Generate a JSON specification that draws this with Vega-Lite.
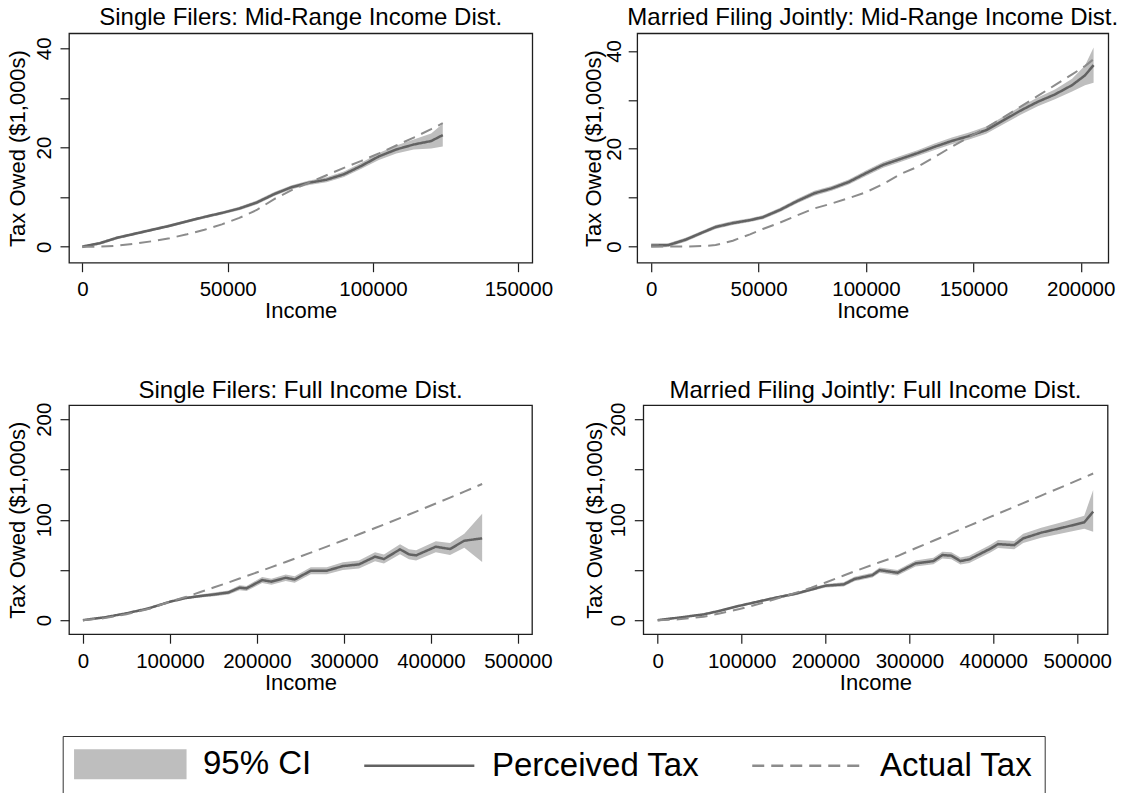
{
  "$schema": "https://vega.github.io/schema/vega-lite/v6.json",
  "background": "white",
  "autosize": {"type": "none"},
  "padding": {"left": 69, "top": 33.3, "right": 1054, "bottom": 759.7},
  "spacing": 54.9,
  "config": {
    "font": "Liberation Sans",
    "view": {"stroke": "#1e1e1e", "strokeWidth": 1.3},
    "axis": {"domain": false, "grid": false, "ticks": true, "tickSize": 9, "tickColor": "#1e1e1e", "tickWidth": 1.2, "labelFont": "Liberation Sans", "labelFontSize": 20.5, "labelColor": "#000000", "titleFont": "Liberation Sans", "titleFontSize": 22, "titleFontWeight": "normal", "titleColor": "#000000", "labelFlush": false, "labelOverlap": false},
    "axisX": {"labelBaseline": "alphabetic", "labelPadding": 24, "titleBaseline": "alphabetic", "titleY": 55},
    "axisY": {"labelAngle": 270, "labelAlign": "center", "labelBaseline": "alphabetic", "labelPadding": 10, "titleAngle": 270, "titleBaseline": "alphabetic"},
    "title": {"fontSize": 24, "font": "Liberation Sans", "fontWeight": "normal", "color": "#000000", "offset": 3, "anchor": "middle"},
    "legend": {
      "orient": "none", "legendX": -6.3, "legendY": 702.7, "direction": "horizontal",
      "symbolSize": 900, "symbolStrokeWidth": 2.5, "symbolOffset": 39.5, "symbolOpacity": 1,
      "labelOffset": 56.2, "labelFont": "Liberation Sans", "labelFontSize": 33, "labelColor": "#000000", "labelLimit": 400,
      "columnPadding": 47, "padding": 11.6, "strokeColor": "#333333", "fillColor": "#ffffff"
    }
  },
  "datasets": {
    "sm": [
      {"x":0,"p":0,"lo":-0.3,"hi":0.3,"a":0},
      {"x":6000,"p":0.7,"lo":0.4,"hi":1.0,"a":0},
      {"x":12000,"p":1.8,"lo":1.5,"hi":2.1,"a":0.2},
      {"x":18000,"p":2.6,"lo":2.3,"hi":2.9,"a":0.6},
      {"x":24000,"p":3.4,"lo":3.1,"hi":3.7,"a":1.1},
      {"x":30000,"p":4.2,"lo":3.9,"hi":4.5,"a":1.7},
      {"x":36000,"p":5.1,"lo":4.8,"hi":5.4,"a":2.5},
      {"x":42000,"p":6.0,"lo":5.7,"hi":6.3,"a":3.4},
      {"x":48000,"p":6.8,"lo":6.5,"hi":7.1,"a":4.5},
      {"x":54000,"p":7.7,"lo":7.35,"hi":8.05,"a":5.8},
      {"x":60000,"p":8.9,"lo":8.5,"hi":9.3,"a":7.4},
      {"x":66000,"p":10.6,"lo":10.2,"hi":11.0,"a":9.6},
      {"x":72000,"p":12.0,"lo":11.6,"hi":12.4,"a":11.4},
      {"x":78000,"p":12.9,"lo":12.45,"hi":13.35,"a":12.9},
      {"x":84000,"p":13.5,"lo":13.0,"hi":14.0,"a":14.4},
      {"x":90000,"p":14.6,"lo":14.05,"hi":15.15,"a":15.9},
      {"x":96000,"p":16.3,"lo":15.7,"hi":16.9,"a":17.3},
      {"x":102000,"p":18.2,"lo":17.5,"hi":18.9,"a":18.8},
      {"x":108000,"p":19.6,"lo":18.8,"hi":20.4,"a":20.4},
      {"x":114000,"p":20.6,"lo":19.6,"hi":21.6,"a":22.0},
      {"x":120000,"p":21.3,"lo":19.8,"hi":22.8,"a":23.7},
      {"x":124000,"p":22.5,"lo":20.2,"hi":24.8,"a":24.9}
    ],
    "mm": [
      {"x":0,"p":0.2,"lo":-0.3,"hi":0.7,"a":0},
      {"x":8000,"p":0.3,"lo":-0.1,"hi":0.7,"a":0},
      {"x":16000,"p":1.4,"lo":1.0,"hi":1.8,"a":0},
      {"x":24000,"p":2.9,"lo":2.5,"hi":3.3,"a":0.1},
      {"x":30000,"p":4.0,"lo":3.6,"hi":4.4,"a":0.3},
      {"x":38000,"p":4.8,"lo":4.4,"hi":5.2,"a":1.2},
      {"x":46000,"p":5.4,"lo":5.0,"hi":5.8,"a":2.5},
      {"x":52000,"p":6.0,"lo":5.6,"hi":6.4,"a":3.6},
      {"x":60000,"p":7.5,"lo":7.05,"hi":7.95,"a":4.9},
      {"x":68000,"p":9.3,"lo":8.85,"hi":9.75,"a":6.4},
      {"x":76000,"p":10.9,"lo":10.4,"hi":11.4,"a":7.8},
      {"x":84000,"p":11.9,"lo":11.4,"hi":12.4,"a":8.8},
      {"x":92000,"p":13.2,"lo":12.7,"hi":13.7,"a":9.9},
      {"x":100000,"p":15.0,"lo":14.45,"hi":15.55,"a":11.1},
      {"x":108000,"p":16.7,"lo":16.1,"hi":17.3,"a":12.8},
      {"x":116000,"p":17.9,"lo":17.3,"hi":18.5,"a":14.8},
      {"x":124000,"p":19.1,"lo":18.5,"hi":19.7,"a":16.3},
      {"x":132000,"p":20.4,"lo":19.75,"hi":21.05,"a":18.3},
      {"x":140000,"p":21.6,"lo":20.9,"hi":22.3,"a":20.4},
      {"x":148000,"p":22.6,"lo":21.9,"hi":23.3,"a":22.4},
      {"x":156000,"p":23.8,"lo":23.05,"hi":24.55,"a":24.3},
      {"x":164000,"p":25.8,"lo":25.0,"hi":26.6,"a":26.4},
      {"x":172000,"p":27.8,"lo":26.95,"hi":28.65,"a":28.6},
      {"x":180000,"p":29.6,"lo":28.7,"hi":30.5,"a":30.8},
      {"x":188000,"p":31.1,"lo":30.1,"hi":32.1,"a":33.0},
      {"x":196000,"p":33.0,"lo":31.7,"hi":34.3,"a":35.2},
      {"x":202000,"p":35.0,"lo":33.0,"hi":37.0,"a":36.9},
      {"x":206000,"p":37.1,"lo":33.5,"hi":40.7,"a":38.3}
    ],
    "sf": [
      {"x":0,"p":0,"lo":-0.8,"hi":0.8,"a":0},
      {"x":25000,"p":2.8,"lo":2.0,"hi":3.6,"a":2.0},
      {"x":50000,"p":6.8,"lo":6.0,"hi":7.6,"a":5.8},
      {"x":75000,"p":11.6,"lo":10.7,"hi":12.5,"a":11.0},
      {"x":100000,"p":18.3,"lo":17.3,"hi":19.3,"a":18.4},
      {"x":118000,"p":22.0,"lo":20.8,"hi":23.2,"a":23.0},
      {"x":135000,"p":24.0,"lo":22.5,"hi":25.5,"a":28.0},
      {"x":151000,"p":25.6,"lo":23.8,"hi":27.4,"a":32.7},
      {"x":167500,"p":27.6,"lo":25.6,"hi":29.6,"a":37.6},
      {"x":180000,"p":32.3,"lo":29.8,"hi":34.8,"a":41.4},
      {"x":188000,"p":31.6,"lo":29.1,"hi":34.1,"a":43.9},
      {"x":206000,"p":39.9,"lo":36.9,"hi":42.9,"a":49.4},
      {"x":216700,"p":38.3,"lo":35.3,"hi":41.3,"a":52.8},
      {"x":233100,"p":42.2,"lo":39.0,"hi":45.4,"a":57.9},
      {"x":243400,"p":40.5,"lo":37.3,"hi":43.7,"a":61.2},
      {"x":261900,"p":49.2,"lo":45.7,"hi":52.7,"a":67.2},
      {"x":280300,"p":49.2,"lo":45.7,"hi":52.7,"a":73.2},
      {"x":298800,"p":53.8,"lo":50.0,"hi":57.6,"a":79.3},
      {"x":317300,"p":55.5,"lo":51.5,"hi":59.5,"a":85.5},
      {"x":335800,"p":63.2,"lo":58.7,"hi":67.7,"a":91.7},
      {"x":346000,"p":60.8,"lo":56.3,"hi":65.3,"a":95.2},
      {"x":364500,"p":70.5,"lo":65.5,"hi":75.5,"a":101.6},
      {"x":374700,"p":65.5,"lo":60.5,"hi":70.5,"a":105.2},
      {"x":383000,"p":64.5,"lo":59.5,"hi":69.5,"a":108.1},
      {"x":405600,"p":73.1,"lo":67.6,"hi":78.6,"a":116.1},
      {"x":422000,"p":70.8,"lo":64.8,"hi":76.8,"a":122.0},
      {"x":438400,"p":79.1,"lo":72.1,"hi":86.1,"a":127.9},
      {"x":458900,"p":81.4,"lo":58.0,"hi":106.0,"a":135.5}
    ],
    "mf": [
      {"x":0,"p":0,"lo":-0.8,"hi":0.8,"a":0},
      {"x":25000,"p":2.5,"lo":1.7,"hi":3.3,"a":0.8},
      {"x":54700,"p":5.7,"lo":4.8,"hi":6.6,"a":3.4},
      {"x":75000,"p":9.5,"lo":8.5,"hi":10.5,"a":6.9},
      {"x":97500,"p":14.3,"lo":13.3,"hi":15.3,"a":11.0},
      {"x":120000,"p":18.5,"lo":17.3,"hi":19.7,"a":16.0},
      {"x":140300,"p":22.3,"lo":21.0,"hi":23.6,"a":21.0},
      {"x":166000,"p":26.6,"lo":25.1,"hi":28.1,"a":27.6},
      {"x":183000,"p":30.5,"lo":28.9,"hi":32.1,"a":32.3},
      {"x":200200,"p":34.3,"lo":32.5,"hi":36.1,"a":37.5},
      {"x":221700,"p":35.6,"lo":33.6,"hi":37.6,"a":44.4},
      {"x":234500,"p":40.9,"lo":38.7,"hi":43.1,"a":48.6},
      {"x":255900,"p":44.8,"lo":42.4,"hi":47.2,"a":55.0},
      {"x":264500,"p":49.8,"lo":47.3,"hi":52.3,"a":57.6},
      {"x":285800,"p":47.2,"lo":44.4,"hi":50.0,"a":63.8},
      {"x":307300,"p":56.5,"lo":53.5,"hi":59.5,"a":71.6},
      {"x":328600,"p":58.8,"lo":55.6,"hi":62.0,"a":79.0},
      {"x":339300,"p":64.8,"lo":61.4,"hi":68.2,"a":82.8},
      {"x":350000,"p":64.2,"lo":60.7,"hi":67.7,"a":86.6},
      {"x":360800,"p":58.8,"lo":55.3,"hi":62.3,"a":90.3},
      {"x":371400,"p":60.5,"lo":56.9,"hi":64.1,"a":94.1},
      {"x":397100,"p":71.4,"lo":67.6,"hi":75.2,"a":103.0},
      {"x":405600,"p":75.7,"lo":71.7,"hi":79.7,"a":106.0},
      {"x":424900,"p":74.7,"lo":70.5,"hi":78.9,"a":112.7},
      {"x":435600,"p":81.4,"lo":76.9,"hi":85.9,"a":116.5},
      {"x":457100,"p":87.1,"lo":82.1,"hi":92.1,"a":124.0},
      {"x":482700,"p":92.1,"lo":86.6,"hi":97.6,"a":133.0},
      {"x":508400,"p":97.4,"lo":90.9,"hi":103.9,"a":142.2},
      {"x":519000,"p":108.0,"lo":88.0,"hi":129.5,"a":146.0}
    ]
  },
  "vconcat": [
    {
      "bounds": "flush",
      "spacing": 104.2,
      "hconcat": [
        {
          "width": 463.3, "height": 229.4,
          "title": "Single Filers: Mid-Range Income Dist.",
          "data": {"name": "sm"},
          "encoding": {"x": {"field": "x", "type": "quantitative", "scale": {"domain": [-4600, 154800], "nice": false, "zero": false}, "axis": {"values": [0, 50000, 100000, 150000], "format": "d", "title": "Income"}}},
          "layer": [
            {"mark": {"type": "area", "opacity": 1},
             "encoding": {
               "y": {"field": "lo", "type": "quantitative", "scale": {"domain": [-3.23, 43.02], "nice": false, "zero": false}, "axis": {"values": [0, 10, 20, 30, 40], "labelExpr": "datum.value % 20 === 0 ? datum.label : ''", "format": "d", "title": "Tax Owed ($1,000s)", "titleX": -44.7}},
               "y2": {"field": "hi"},
               "fill": {"datum": "95% CI", "type": "nominal",
                 "scale": {"domain": ["95% CI", "Perceived Tax", "Actual Tax"], "range": ["#bebebe", "transparent", "transparent"]},
                 "legend": {"title": null}}
             }},
            {"mark": {"type": "point", "opacity": 0, "size": 0, "filled": true},
             "encoding": {
               "y": {"field": "p", "type": "quantitative", "axis": {"values": [0, 10, 20, 30, 40], "labelExpr": "datum.value % 20 === 0 ? datum.label : ''", "format": "d", "title": "Tax Owed ($1,000s)", "titleX": -44.7}},
               "shape": {"datum": "95% CI", "type": "nominal",
                 "scale": {"domain": ["95% CI", "Perceived Tax", "Actual Tax"], "range": ["M-3.75,-1H3.75V1H-3.75Z", "M-3.67,0H3.67", "M-3.67,0H3.67"]},
                 "legend": {"title": null}}
             }},
            {"mark": {"type": "line", "strokeWidth": 2.5},
             "encoding": {
               "y": {"field": "p", "type": "quantitative", "axis": {"values": [0, 10, 20, 30, 40], "labelExpr": "datum.value % 20 === 0 ? datum.label : ''", "format": "d", "title": "Tax Owed ($1,000s)", "titleX": -44.7}},
               "stroke": {"datum": "Perceived Tax", "type": "nominal",
                 "scale": {"domain": ["95% CI", "Perceived Tax", "Actual Tax"], "range": ["transparent", "#626262", "#8c8c8c"]},
                 "legend": {"title": null}},
               "strokeDash": {"datum": "Perceived Tax", "type": "nominal",
                 "scale": {"domain": ["95% CI", "Perceived Tax", "Actual Tax"], "range": [[1, 0], [1, 0], [12, 7]]},
                 "legend": {"title": null}}
             }},
            {"mark": {"type": "line", "strokeWidth": 2},
             "encoding": {
               "y": {"field": "a", "type": "quantitative", "axis": {"values": [0, 10, 20, 30, 40], "labelExpr": "datum.value % 20 === 0 ? datum.label : ''", "format": "d", "title": "Tax Owed ($1,000s)", "titleX": -44.7}},
               "stroke": {"datum": "Actual Tax", "type": "nominal", "legend": {"title": null}},
               "strokeDash": {"datum": "Actual Tax", "type": "nominal", "legend": {"title": null}}
             }}
          ]
        },
        {
          "width": 471.1, "height": 229.4,
          "title": "Married Filing Jointly: Mid-Range Income Dist.",
          "data": {"name": "mm"},
          "encoding": {"x": {"field": "x", "type": "quantitative", "scale": {"domain": [-6520, 212850], "nice": false, "zero": false}, "axis": {"values": [0, 50000, 100000, 150000, 200000], "format": "d", "title": "Income"}}},
          "layer": [
            {"mark": {"type": "area", "opacity": 1},
             "encoding": {
               "y": {"field": "lo", "type": "quantitative", "scale": {"domain": [-3.3, 43.6], "nice": false, "zero": false}, "axis": {"values": [0, 10, 20, 30, 40], "labelExpr": "datum.value % 20 === 0 ? datum.label : ''", "format": "d", "title": "Tax Owed ($1,000s)", "titleX": -36.8, "labelPadding": 7.5}},
               "y2": {"field": "hi"},
               "fill": {"datum": "95% CI", "type": "nominal", "legend": {"title": null}}
             }},
            {"mark": {"type": "line", "strokeWidth": 2.5},
             "encoding": {
               "y": {"field": "p", "type": "quantitative", "axis": {"values": [0, 10, 20, 30, 40], "labelExpr": "datum.value % 20 === 0 ? datum.label : ''", "format": "d", "title": "Tax Owed ($1,000s)", "titleX": -36.8, "labelPadding": 7.5}},
               "stroke": {"datum": "Perceived Tax", "type": "nominal", "legend": {"title": null}},
               "strokeDash": {"datum": "Perceived Tax", "type": "nominal", "legend": {"title": null}}
             }},
            {"mark": {"type": "line", "strokeWidth": 2},
             "encoding": {
               "y": {"field": "a", "type": "quantitative", "axis": {"values": [0, 10, 20, 30, 40], "labelExpr": "datum.value % 20 === 0 ? datum.label : ''", "format": "d", "title": "Tax Owed ($1,000s)", "titleX": -36.8, "labelPadding": 7.5}},
               "stroke": {"datum": "Actual Tax", "type": "nominal", "legend": {"title": null}},
               "strokeDash": {"datum": "Actual Tax", "type": "nominal", "legend": {"title": null}}
             }}
          ]
        }
      ]
    },
    {
      "bounds": "flush",
      "spacing": 111.3,
      "hconcat": [
        {
          "width": 463, "height": 229,
          "title": {"text": "Single Filers: Full Income Dist.", "offset": -1.1},
          "data": {"name": "sf"},
          "encoding": {"x": {"field": "x", "type": "quantitative", "scale": {"domain": [-16000, 516200], "nice": false, "zero": false}, "axis": {"values": [0, 100000, 200000, 300000, 400000, 500000], "format": "d", "title": "Income"}}},
          "layer": [
            {"mark": {"type": "area", "opacity": 1},
             "encoding": {
               "y": {"field": "lo", "type": "quantitative", "scale": {"domain": [-14, 214], "nice": false, "zero": false}, "axis": {"values": [0, 50, 100, 150, 200], "labelExpr": "datum.value % 100 === 0 ? datum.label : ''", "format": "d", "title": "Tax Owed ($1,000s)", "titleX": -44.7}},
               "y2": {"field": "hi"},
               "fill": {"datum": "95% CI", "type": "nominal", "legend": {"title": null}}
             }},
            {"mark": {"type": "line", "strokeWidth": 2.5},
             "encoding": {
               "y": {"field": "p", "type": "quantitative", "axis": {"values": [0, 50, 100, 150, 200], "labelExpr": "datum.value % 100 === 0 ? datum.label : ''", "format": "d", "title": "Tax Owed ($1,000s)", "titleX": -44.7}},
               "stroke": {"datum": "Perceived Tax", "type": "nominal", "legend": {"title": null}},
               "strokeDash": {"datum": "Perceived Tax", "type": "nominal", "legend": {"title": null}}
             }},
            {"mark": {"type": "line", "strokeWidth": 2},
             "encoding": {
               "y": {"field": "a", "type": "quantitative", "axis": {"values": [0, 50, 100, 150, 200], "labelExpr": "datum.value % 100 === 0 ? datum.label : ''", "format": "d", "title": "Tax Owed ($1,000s)", "titleX": -44.7}},
               "stroke": {"datum": "Actual Tax", "type": "nominal", "legend": {"title": null}},
               "strokeDash": {"datum": "Actual Tax", "type": "nominal", "legend": {"title": null}}
             }}
          ]
        },
        {
          "width": 464.3, "height": 229,
          "title": {"text": "Married Filing Jointly: Full Income Dist.", "offset": -1.1},
          "data": {"name": "mf"},
          "encoding": {"x": {"field": "x", "type": "quantitative", "scale": {"domain": [-17160, 536200], "nice": false, "zero": false}, "axis": {"values": [0, 100000, 200000, 300000, 400000, 500000], "format": "d", "title": "Income"}}},
          "layer": [
            {"mark": {"type": "area", "opacity": 1},
             "encoding": {
               "y": {"field": "lo", "type": "quantitative", "scale": {"domain": [-14, 214], "nice": false, "zero": false}, "axis": {"values": [0, 50, 100, 150, 200], "labelExpr": "datum.value % 100 === 0 ? datum.label : ''", "format": "d", "title": "Tax Owed ($1,000s)", "titleX": -41.6}},
               "y2": {"field": "hi"},
               "fill": {"datum": "95% CI", "type": "nominal", "legend": {"title": null}}
             }},
            {"mark": {"type": "line", "strokeWidth": 2.5},
             "encoding": {
               "y": {"field": "p", "type": "quantitative", "axis": {"values": [0, 50, 100, 150, 200], "labelExpr": "datum.value % 100 === 0 ? datum.label : ''", "format": "d", "title": "Tax Owed ($1,000s)", "titleX": -41.6}},
               "stroke": {"datum": "Perceived Tax", "type": "nominal", "legend": {"title": null}},
               "strokeDash": {"datum": "Perceived Tax", "type": "nominal", "legend": {"title": null}}
             }},
            {"mark": {"type": "line", "strokeWidth": 2},
             "encoding": {
               "y": {"field": "a", "type": "quantitative", "axis": {"values": [0, 50, 100, 150, 200], "labelExpr": "datum.value % 100 === 0 ? datum.label : ''", "format": "d", "title": "Tax Owed ($1,000s)", "titleX": -41.6}},
               "stroke": {"datum": "Actual Tax", "type": "nominal", "legend": {"title": null}},
               "strokeDash": {"datum": "Actual Tax", "type": "nominal", "legend": {"title": null}}
             }}
          ]
        }
      ]
    }
  ]
}
